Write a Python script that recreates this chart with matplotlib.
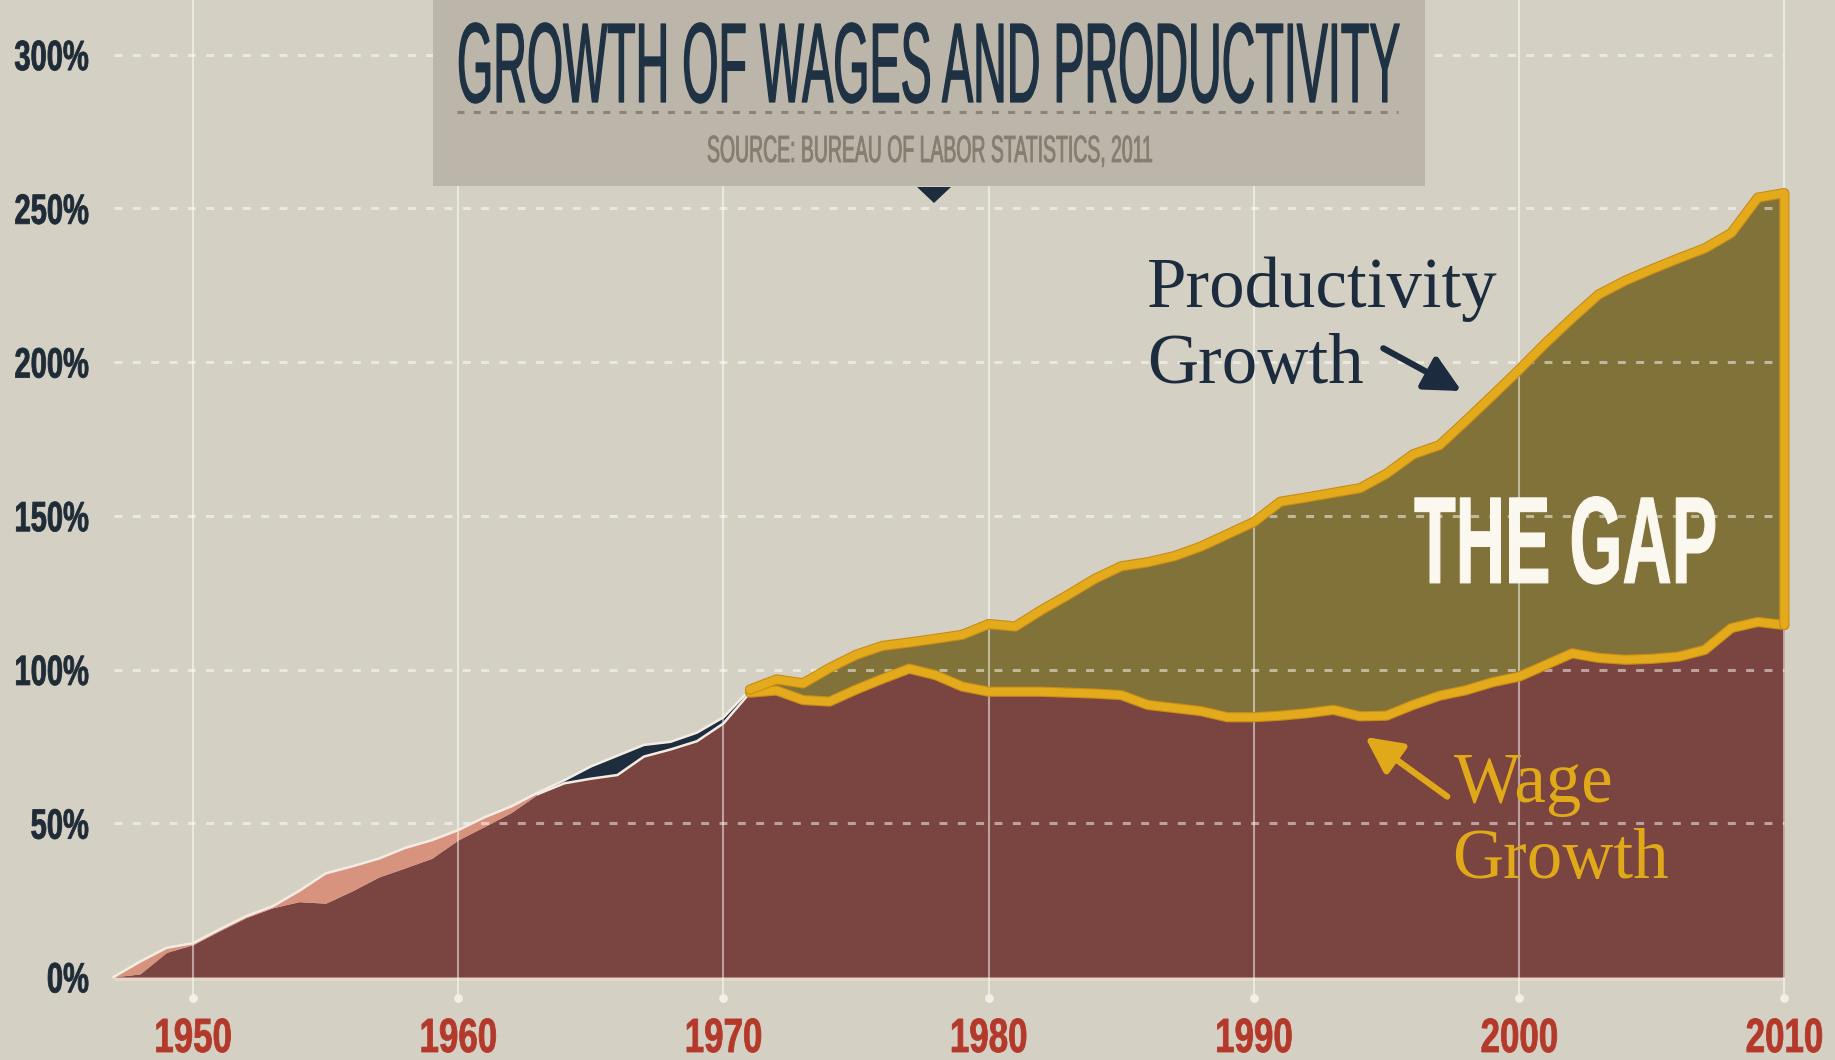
import numpy as np
import matplotlib
matplotlib.use("Agg")
import matplotlib.pyplot as plt
import matplotlib.patheffects as pe
from matplotlib.transforms import Affine2D
from matplotlib.patches import Rectangle, Polygon
from matplotlib.lines import Line2D
from matplotlib.textpath import TextPath
from matplotlib.font_manager import FontProperties

# ---------------- data ----------------
years = list(range(1947, 2011))
productivity = [0, 5, 9.5, 11, 15.5, 19.8, 23, 28, 33.7, 36, 38.5, 42, 44.5, 47.8,
                52, 55.5, 60, 64, 68.5, 72, 75.5, 76.5, 79.5, 84.5,
                93.5, 96.8, 95.5, 100.5, 104.8, 107.7, 108.8, 110, 111.3, 114.8,
                114, 119.4, 124.3, 129.5, 133.6, 134.9, 136.9, 140, 144, 148,
                154.6, 156, 157.5, 159, 163.7, 170, 173, 181, 189.2, 197.5,
                206.2, 214.3, 222, 226.5, 230.2, 233.7, 237, 242, 253.5, 255]
wages = [0, 1, 8, 10.5, 15, 19.3, 22.5, 24.5, 24, 28, 32.5, 35.5, 38.6, 44.6,
         49, 53.5, 59.5, 63, 64.5, 65.7, 71.7, 74, 76.7, 82.5,
         92.5, 93.2, 90.1, 89.6, 93.5, 97, 100.3, 98.2, 94.5, 92.8,
         92.8, 92.8, 92.5, 92.2, 91.7, 88.5, 87.5, 86.5, 84.5, 84.5,
         85, 85.8, 86.9, 84.8, 85, 88.5, 91.5, 93.3, 95.9, 97.7,
         101.5, 105.3, 103.8, 103.2, 103.5, 104.2, 106.4, 113.5, 115.5, 114.5]
x_ticks = [1950, 1960, 1970, 1980, 1990, 2000, 2010]
x_tick_labels = ["1950", "1960", "1970", "1980", "1990", "2000", "2010"]
y_ticks = [0, 50, 100, 150, 200, 250, 300]
y_tick_labels = ["0%", "50%", "100%", "150%", "200%", "250%", "300%"]
title = "GROWTH OF WAGES AND PRODUCTIVITY"
source = "SOURCE: BUREAU OF LABOR STATISTICS, 2011"

# ---------------- colours ----------------
BG = "#d4d1c4"
BOX = "#bcb6aa"
RED = "#7a4440"
OLIVE = "#807238"
PINK = "#d8937f"
NAVY = "#1d2d3d"
GOLD = "#e3aa1c"
GOLD_EDGE = "#c98b17"
WHITE_LINE = "#f4ece4"
TICK_RED = "#b3392b"
TEXT_NAVY = "#1c2b3e"
WAGE_GOLD = "#e0a91a"

W, H = 1835, 1060
fig = plt.figure(figsize=(W / 100, H / 100), dpi=100, facecolor=BG)
ax = fig.add_axes([0, 0, 1, 1], facecolor=BG)
ax.set_xlim(1942.72, 2011.91)
ax.set_ylim(-27.0, 317.8)
ax.axis("off")

yrs = np.array(years, dtype=float)
prod = np.array(productivity)
wage = np.array(wages)

# ---------------- fills ----------------
ax.fill_between(yrs, 0, wage, color=RED, lw=0, zorder=1)
ax.fill_between(yrs, wage, prod, where=yrs <= 1963, color=PINK, lw=0, zorder=1)
ax.fill_between(yrs, wage, prod, where=(yrs >= 1963) & (yrs <= 1971), color=NAVY, lw=0, zorder=1)
ax.fill_between(yrs, wage, prod, where=yrs >= 1971, color=OLIVE, lw=0, zorder=1)

# baseline
ax.plot([years[0], years[-1]], [-0.7, -0.7], color="#e8d6ca", lw=2.2, zorder=1.5,
        solid_capstyle="butt")

# ---------------- grid ----------------
for v in y_ticks[1:]:
    ax.plot([1947, 2010], [v, v], color="white", alpha=0.5, lw=2.2,
            linestyle=(0, (2.6, 3.4)), zorder=2, solid_capstyle="butt")
ax.vlines(x_ticks, -6.8, 330, colors="white", alpha=0.5, lw=1.5, zorder=2)
ax.scatter(x_ticks, [-6.8] * len(x_ticks), s=40, color="#f3efe8", zorder=2.5, lw=0)

# ---------------- lines ----------------
early = yrs <= 1971
mid = (yrs >= 1963) & (yrs <= 1971)
late = yrs >= 1971
ax.plot(yrs[early], prod[early], color=WHITE_LINE, lw=1.8, zorder=3)
ax.plot(yrs[mid], wage[mid], color=WHITE_LINE, lw=1.8, zorder=3)

gold_fx = [pe.Stroke(linewidth=7.4, foreground=GOLD_EDGE), pe.Normal()]
ax.plot(yrs[late], wage[late], color=GOLD, lw=5.8, zorder=3.5,
        solid_capstyle="round", solid_joinstyle="round", path_effects=gold_fx)
px_ = list(yrs[late]) + [yrs[-1]]
py_ = list(prod[late]) + [wage[-1]]
ax.plot(px_, py_, color=GOLD, lw=5.8, zorder=3.6,
        solid_capstyle="round", solid_joinstyle="round", path_effects=gold_fx)


# ---------------- condensed-text look: vertical stretch about the baseline ----------------
class Stretch(pe.AbstractPathEffect):
    def __init__(self, sy, stroke=0.0):
        super().__init__()
        self.sy = sy
        self.stroke = stroke

    def draw_path(self, renderer, gc, tpath, affine, rgbFace=None):
        ox, oy = affine.transform((0.0, 0.0))
        new = affine + Affine2D().translate(0, -oy).scale(1.0, self.sy).translate(0, oy)
        gc0 = renderer.new_gc()
        gc0.copy_properties(gc)
        if self.stroke > 0 and rgbFace is not None:
            gc0.set_foreground(rgbFace)
            gc0.set_linewidth(self.stroke)
            gc0.set_joinstyle("round")
        renderer.draw_path(gc0, tpath, new, rgbFace)
        gc0.restore()


COND = "Liberation Sans"


def fit(sample, target_w, target_cap, weight, cap_char="H"):
    """font size (pt) giving the target ink width, and the vertical stretch for the cap height"""
    fp = FontProperties(family=COND, weight=weight)
    w100 = TextPath((0, 0), sample, size=100, prop=fp).get_extents().width
    c100 = TextPath((0, 0), cap_char, size=100, prop=fp).get_extents().height
    size = target_w * 72.0 / w100
    sy = target_cap / (c100 * size / 72.0)
    return size, sy


def fx(px):
    return px / W


def fy(py):
    return 1 - py / H


# tick labels
xs, xsy = fit(x_tick_labels[0], 74, 34, "bold", "0")
for xv, lab in zip(x_ticks, x_tick_labels):
    ax.text(xv, (977 - 1052) / 3.074, lab, ha="center", va="baseline", fontsize=xs,
            fontweight="bold", family=COND, color=TICK_RED, zorder=5,
            path_effects=[Stretch(xsy, 0.6)])
ys, ysy = fit(y_tick_labels[-1], 73, 30, "bold", "0")
for yv, lab in zip(y_ticks, y_tick_labels):
    ax.text(1942.72 + 89 / 26.52, yv - 5.0, lab, ha="right", va="baseline",
            fontsize=ys, fontweight="bold", family=COND, color="#1f2b37", zorder=5,
            path_effects=[Stretch(ysy, 0.6)])

# title box
fig.add_artist(Rectangle((fx(433), fy(186)), fx(1425) - fx(433), fy(0) - fy(186),
                         transform=fig.transFigure, facecolor=BOX, edgecolor="none", zorder=3))
fig.add_artist(Polygon([(fx(917), fy(187)), (fx(951), fy(187)), (fx(934), fy(203))],
                       closed=True, transform=fig.transFigure, facecolor=NAVY,
                       edgecolor="none", zorder=4))
fig.add_artist(Line2D([fx(457), fx(1398)], [fy(112), fy(112)], transform=fig.transFigure,
                      color="#8a8478", lw=2.2, linestyle=(0, (2.3, 3.0)), zorder=4))
ts, tsy = fit(title, 940, 78, "normal")
fig.text(fx(457), fy(102), title, ha="left", va="baseline", fontsize=ts,
         fontweight="normal", family=COND, color="#1f3243", zorder=5,
         path_effects=[Stretch(tsy, 0.9)])
ss, ssy = fit(source, 444, 26, "normal")
fig.text(fx(707), fy(162), source, ha="left", va="baseline", fontsize=ss,
         fontweight="normal", family=COND, color="#847d70", zorder=5,
         path_effects=[Stretch(ssy, 0.6)])

# annotations
gs, gsy = fit("THE GAP", 300, 85, "bold")
ax.text(1996.04, 128.2, "THE GAP", ha="left", va="baseline", fontsize=gs,
        fontweight="bold", family=COND, color="#fbf8f0", zorder=6,
        path_effects=[Stretch(gsy, 0.8)])
SERIF = 51
ax.text(1985.97, 218.1, "Productivity", ha="left", va="baseline", fontsize=SERIF,
        family="Liberation Serif", color=TEXT_NAVY, zorder=6)
ax.text(1985.97, 193.2, "Growth", ha="left", va="baseline", fontsize=SERIF,
        family="Liberation Serif", color=TEXT_NAVY, zorder=6)
ax.text(1997.55, 57.0, "Wage", ha="left", va="baseline", fontsize=SERIF,
        family="Liberation Serif", color=WAGE_GOLD, zorder=6)
ax.text(1997.46, 32.2, "Growth", ha="left", va="baseline", fontsize=SERIF,
        family="Liberation Serif", color=WAGE_GOLD, zorder=6)

ax.annotate("", xy=(1997.83, 190.6), xytext=(1994.88, 204.5),
            arrowprops=dict(arrowstyle="-|>,head_length=1.1,head_width=0.55",
                            mutation_scale=20, lw=4.5, color=TEXT_NAVY,
                            shrinkA=0, shrinkB=0), zorder=6)
ax.annotate("", xy=(1994.19, 78.1), xytext=(1997.29, 58.7),
            arrowprops=dict(arrowstyle="-|>,head_length=1.1,head_width=0.55",
                            mutation_scale=20, lw=4.5, color=WAGE_GOLD,
                            shrinkA=0, shrinkB=0), zorder=6)

fig.savefig("out.png", dpi=100, facecolor=BG)
